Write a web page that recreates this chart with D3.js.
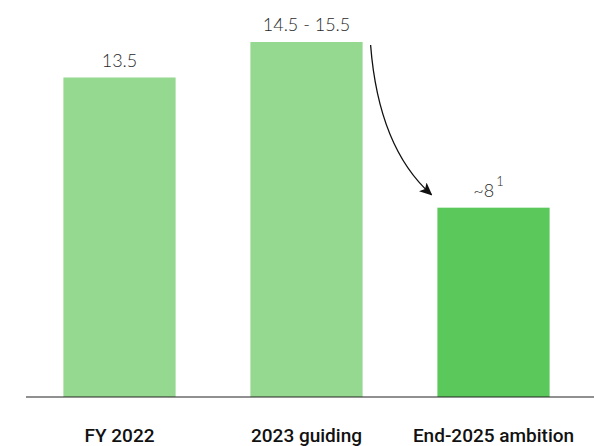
<!DOCTYPE html>
<html>
<head>
<meta charset="utf-8">
<script src="https://cdn.jsdelivr.net/npm/d3@7"></script>
<style>
  body { margin: 0; background: #fff; }
</style>
</head>
<body>
<script>
const categories = ['FY 2022', '2023 guiding', 'End-2025 ambition'];
const values = [13.5, 15, 8];            // bar heights (2023 drawn at range midpoint)
const valueLabels = ['13.5', '14.5 - 15.5', '~8'];
const footnotes = ['', '', '1'];
const colors = ['#95d88f', '#95d88f', '#5ac85a'];

const width = 594, height = 446;
const baseY = 397;

const svg = d3.select('body').append('svg')
  .attr('width', width)
  .attr('height', height);

const x = d3.scaleBand()
  .domain(categories)
  .range([26, 587])
  .paddingInner(0.4)
  .paddingOuter(0.2);

const y = d3.scaleLinear()
  .domain([0, 15])
  .range([baseY, 42]);

svg.selectAll('rect.bar')
  .data(categories)
  .enter()
  .append('rect')
  .attr('class', 'bar')
  .attr('x', d => x(d))
  .attr('y', (d, i) => y(values[i]))
  .attr('width', x.bandwidth())
  .attr('height', (d, i) => baseY - y(values[i]))
  .attr('fill', (d, i) => colors[i]);

// baseline
svg.append('line')
  .attr('x1', 26).attr('x2', width)
  .attr('y1', baseY).attr('y2', baseY)
  .attr('stroke', '#222')
  .attr('stroke-width', 1.2);

// value labels
const vl = svg.selectAll('text.val')
  .data(categories)
  .enter()
  .append('text')
  .attr('class', 'val')
  .attr('x', (d, i) => x(d) + x.bandwidth() / 2 - (footnotes[i] ? 5 : 0))
  .attr('y', (d, i) => y(values[i]) - 11)
  .attr('text-anchor', 'middle')
  .attr('font-family', 'Lato')
  .attr('font-weight', 300)
  .attr('font-size', 18)
  .attr('fill', '#2a2a2a');

vl.append('tspan').text((d, i) => valueLabels[i]);
vl.filter((d, i) => footnotes[i])
  .append('tspan')
  .attr('dx', 2)
  .attr('dy', -11)
  .attr('font-size', 13)
  .text(d => footnotes[categories.indexOf(d)]);

// category labels
svg.selectAll('text.cat')
  .data(categories)
  .enter()
  .append('text')
  .attr('class', 'cat')
  .attr('x', d => x(d) + x.bandwidth() / 2)
  .attr('y', 442)
  .attr('text-anchor', 'middle')
  .attr('font-family', 'Roboto')
  .attr('font-weight', 500)
  .attr('font-size', 19)
  .attr('fill', '#111')
  .text(d => d);

// arrow from 2023 to 2025
svg.append('defs').append('marker')
  .attr('id', 'head')
  .attr('viewBox', '0 0 10 10')
  .attr('refX', 9).attr('refY', 5)
  .attr('markerWidth', 13).attr('markerHeight', 13)
  .attr('markerUnits', 'userSpaceOnUse')
  .attr('orient', 'auto')
  .append('path')
  .attr('d', 'M0,0.5 L10,5 L0,9.5 L2.5,5 Z')
  .attr('fill', '#111');

const x0 = x(categories[1]) + x.bandwidth() + 8;
const x1 = x(categories[2]) - 6;
const path = d3.path();
path.moveTo(x0, y(values[1]) + 3);
path.quadraticCurveTo(x0 + 8, y(values[2]) - 60, x1, y(values[2]) - 13);
svg.append('path')
  .attr('d', path.toString())
  .attr('fill', 'none')
  .attr('stroke', '#111')
  .attr('stroke-width', 1.3)
  .attr('marker-end', 'url(#head)');
</script>
</body>
</html>
